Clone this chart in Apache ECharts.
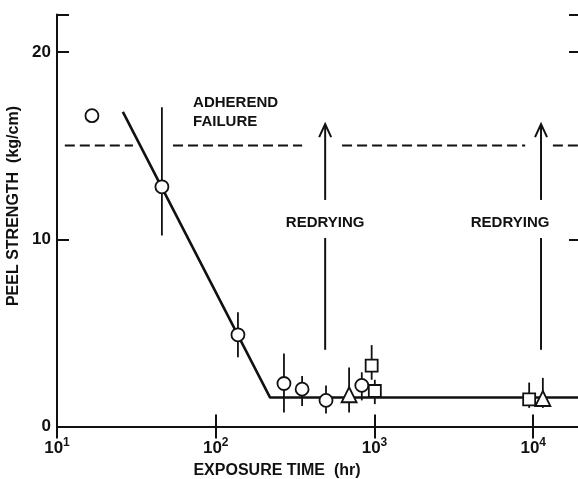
<!DOCTYPE html>
<html>
<head>
<meta charset="utf-8">
<script src="https://cdn.jsdelivr.net/npm/echarts@6/dist/echarts.min.js"></script>
<style>
  html, body { margin: 0; padding: 0; background: #fff; }
  #chart { width: 578px; height: 479px; }
</style>
</head>
<body>
<div id="chart"></div>
<script>
// Peel strength vs. exposure time (log time axis)
const xMin = 10;
const xMax = 20000;
const yMin = 0;
const yMax = 22;
const yTicks = [0, 10, 20];

// measured points [hours, kg/cm]
const circlePoints = [[16.6, 16.6], [45.8, 12.8], [138, 4.9], [269, 2.3], [350, 2.0], [495, 1.4], [832, 2.2]];
const trianglePoints = [[692, 1.7], [11500, 1.5]];
const squarePoints = [[960, 3.25], [1005, 1.9], [9430, 1.45]];

// scatter ranges [hours, low, high]
const errorRanges = [
  [45.8, 10.2, 17.05], [138, 3.7, 6.1], [269, 0.75, 3.9], [350, 1.1, 2.7],
  [495, 0.7, 2.2], [832, 1.4, 2.9], [692, 0.75, 3.15], [11500, 1.0, 2.6],
  [960, 2.5, 4.35], [1005, 1.2, 2.5], [9430, 1.0, 2.35]
];

// fitted trend
const trendLine = [[26, 16.8], [220, 1.55], [20000, 1.55]];

// adherend failure level and the stretches where it is drawn
const failureLevel = 15;
const failureSegments = [[11.2, 30.1], [53.8, 350], [625, 8900], [13300, 20000]];

// redrying arrows [hours, bottom, gapLow, gapHigh, top]
const redryArrows = [[489, 4.1, 10.07, 12.1, 16.15], [11200, 4.1, 10.07, 12.1, 16.15]];
const redryLabels = [[489, 10.87, 'REDRYING'], [7150, 10.87, 'REDRYING']];
const failureLabel = [[72, 16.77, 'ADHEREND\nFAILURE']];

const FONT = '"Liberation Sans", Arial, sans-serif';
const INK = '#111';

const chart = echarts.init(document.getElementById('chart'), null, { renderer: 'canvas' });

function powLabel(v) {
  const e = Math.round(Math.log10(v));
  if (Math.abs(Math.log10(v) - e) > 1e-6) return '';
  return '{b|10}{s|' + e + '}';
}

const frameLine = { show: true, lineStyle: { color: INK, width: 2 } };
const innerTick = { show: true, inside: true, length: 12, lineStyle: { color: INK, width: 2 } };

chart.setOption({
  animation: false,
  backgroundColor: '#fff',
  grid: { left: 57, right: -3, top: 14.5, bottom: 52.4, outerBoundsMode: 'none' },
  xAxis: [
    {
      type: 'log', logBase: 10, min: xMin, max: xMax, position: 'bottom',
      axisLine: frameLine, axisTick: innerTick,
      minorTick: { show: false }, splitLine: { show: false },
      axisLabel: {
        formatter: powLabel, margin: 10, showMaxLabel: false,
        rich: {
          b: { fontFamily: FONT, fontSize: 17, fontWeight: 'bold', color: INK },
          s: { fontFamily: FONT, fontSize: 12, fontWeight: 'bold', color: INK, padding: [0, 0, 12, 0] }
        }
      },
      name: 'EXPOSURE TIME  (hr)', nameLocation: 'middle', nameGap: 36,
      nameTextStyle: { fontFamily: FONT, fontSize: 16, fontWeight: 'bold', color: INK, padding: [0, 84, 0, 0] }
    },
    {
      type: 'log', logBase: 10, min: xMin, max: xMax, position: 'top',
      axisLine: frameLine, axisTick: innerTick,
      axisLabel: { show: false }, splitLine: { show: false }
    }
  ],
  yAxis: [
    {
      type: 'value', min: yMin, max: yMax, interval: 10, position: 'left',
      axisLine: frameLine, axisTick: innerTick, splitLine: { show: false },
      axisLabel: {
        fontFamily: FONT, fontSize: 17, fontWeight: 'bold', color: INK, margin: 6,
        formatter: v => (yTicks.indexOf(v) >= 0 ? String(v) : '')
      },
      name: 'PEEL STRENGTH  (kg/cm)', nameLocation: 'middle', nameGap: 31,
      nameTextStyle: { fontFamily: FONT, fontSize: 16, fontWeight: 'bold', color: INK, padding: [0, 0, 0, 29] }
    },
    {
      type: 'value', min: yMin, max: yMax, interval: 10, position: 'right',
      axisLine: frameLine, axisTick: innerTick, splitLine: { show: false },
      axisLabel: { show: false }
    }
  ],
  series: [
    {
      type: 'custom', name: 'failure', z: 2,
      data: failureSegments,
      renderItem: (params, api) => {
        const a = api.coord([api.value(0), failureLevel]);
        const b = api.coord([api.value(1), failureLevel]);
        return { type: 'line', shape: { x1: a[0], y1: a[1], x2: b[0], y2: b[1] },
          style: { stroke: INK, lineWidth: 2, lineDash: [10, 5] } };
      },
      encode: { x: [0, 1] }
    },
    {
      type: 'custom', name: 'ranges', z: 2,
      data: errorRanges,
      renderItem: (params, api) => {
        const a = api.coord([api.value(0), api.value(1)]);
        const b = api.coord([api.value(0), api.value(2)]);
        return { type: 'line', shape: { x1: a[0], y1: a[1], x2: b[0], y2: b[1] },
          style: { stroke: INK, lineWidth: 1.8 } };
      },
      encode: { x: 0, y: [1, 2] }
    },
    {
      type: 'custom', name: 'redrying', z: 2,
      data: redryArrows,
      renderItem: (params, api) => {
        const x = api.value(0);
        const p0 = api.coord([x, api.value(1)]);
        const p1 = api.coord([x, api.value(2)]);
        const p2 = api.coord([x, api.value(3)]);
        const p3 = api.coord([x, api.value(4)]);
        const st = { stroke: INK, lineWidth: 2, fill: null };
        return { type: 'group', children: [
          { type: 'line', shape: { x1: p0[0], y1: p0[1], x2: p1[0], y2: p1[1] }, style: st },
          { type: 'line', shape: { x1: p2[0], y1: p2[1], x2: p3[0], y2: p3[1] }, style: st },
          { type: 'polyline', shape: { points: [[p3[0] - 6, p3[1] + 13], [p3[0], p3[1]], [p3[0] + 6, p3[1] + 13]] }, style: st }
        ] };
      },
      encode: { x: 0, y: [1, 4] }
    },
    {
      type: 'custom', name: 'labels', z: 3,
      data: redryLabels.concat(failureLabel),
      renderItem: (params, api) => {
        const d = params.dataIndex < redryLabels.length ? redryLabels[params.dataIndex]
          : failureLabel[params.dataIndex - redryLabels.length];
        const p = api.coord([d[0], d[1]]);
        const left = d[2].indexOf('\n') >= 0;
        return { type: 'text', x: p[0], y: p[1],
          style: { text: d[2], fill: INK, font: 'bold 15px ' + FONT, lineHeight: 19,
            align: left ? 'left' : 'center', verticalAlign: 'middle' } };
      },
      encode: { x: 0, y: 1 }
    },
    {
      type: 'line', name: 'trend', z: 3, data: trendLine, symbol: 'none',
      lineStyle: { color: INK, width: 2.6 }
    },
    {
      type: 'scatter', name: 'circles', z: 5, data: circlePoints, symbol: 'circle', symbolSize: 13,
      itemStyle: { color: '#fff', borderColor: INK, borderWidth: 1.8, opacity: 1 }
    },
    {
      type: 'scatter', name: 'triangles', z: 5, data: trianglePoints, symbol: 'triangle', symbolSize: 15,
      itemStyle: { color: '#fff', borderColor: INK, borderWidth: 1.8, opacity: 1 }
    },
    {
      type: 'scatter', name: 'squares', z: 5, data: squarePoints, symbol: 'rect', symbolSize: 12,
      itemStyle: { color: '#fff', borderColor: INK, borderWidth: 1.8, opacity: 1 }
    }
  ]
});
</script>
</body>
</html>
